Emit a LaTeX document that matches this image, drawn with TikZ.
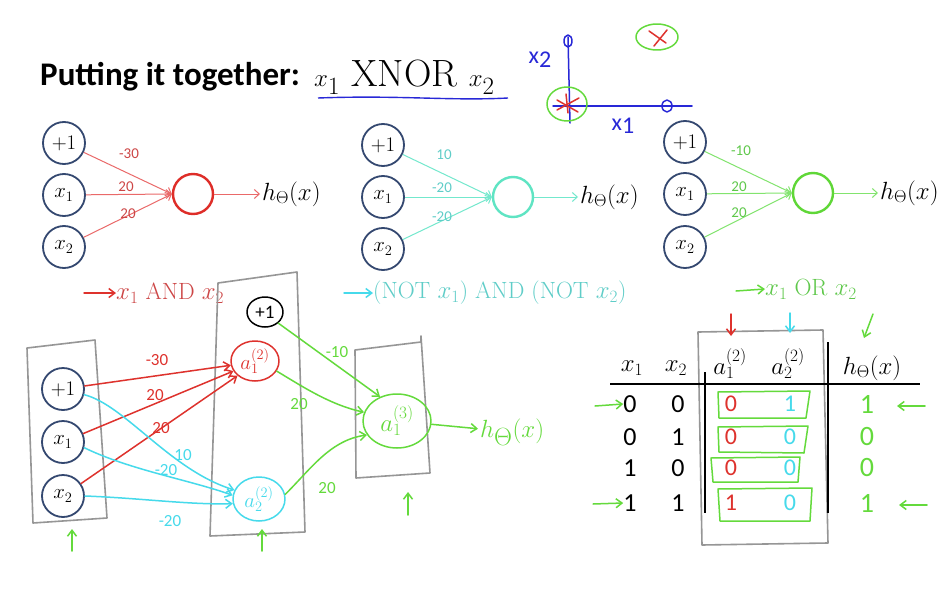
\documentclass[tikz,border=0pt]{standalone}
\usepackage{fontspec}
\newfontfamily\carl{Carlito}
\usetikzlibrary{arrows.meta,shapes.geometric}
\definecolor{nodeblue}{RGB}{52,72,112}
\definecolor{tred}{RGB}{234,105,105}
\definecolor{tredn}{RGB}{222,45,40}
\definecolor{tredt}{RGB}{205,70,70}
\definecolor{tcyan}{RGB}{115,232,205}
\definecolor{tcyann}{RGB}{95,228,195}
\definecolor{tcyant}{RGB}{95,205,200}
\definecolor{tgreen}{RGB}{130,228,110}
\definecolor{tgreenn}{RGB}{95,215,55}
\definecolor{tgreent}{RGB}{95,200,75}
\definecolor{hred}{RGB}{222,50,45}
\definecolor{hcyan}{RGB}{70,218,235}
\definecolor{hgreen}{RGB}{100,218,60}
\definecolor{hgray}{RGB}{150,150,150}
\definecolor{hblue}{RGB}{40,40,215}
\begin{document}
\begin{tikzpicture}[x=1pt,y=-1pt,
  inp/.style={circle,draw=nodeblue,line width=1.8pt,minimum size=42pt,inner sep=0pt,font=\fontsize{20}{20}\selectfont},
  outn/.style={circle,line width=2.4pt,minimum size=40pt,inner sep=0pt},
  hlab/.style={inner sep=2pt,font=\fontsize{25}{25}\selectfont},
  wl/.style={inner sep=0pt,font=\carl\fontsize{15}{15}\selectfont},
  hw/.style={inner sep=0pt,font=\carl\fontsize{17}{17}\selectfont},
  tedge/.style={line width=1pt,-{Straight Barb[length=5pt,width=9pt]}},
  hnd/.style={line width=1.5pt,line cap=round,line join=round},
  harr/.style={hnd,-{Straight Barb[length=6pt,width=9pt]}},
  gbox/.style={draw=hgray,line width=1.6pt,line join=round},
  tnum/.style={inner sep=0pt,font=\carl\fontsize{26}{26}\selectfont},
  thead/.style={inner sep=0pt,font=\fontsize{25}{25}\selectfont},
  glab/.style={inner sep=0pt,anchor=west,font=\fontsize{23.5}{23.5}\selectfont}
]
\useasboundingbox (0,0) rectangle (943,589);
\fill[white] (0,0) rectangle (943,589);

% ---------- title ----------
\node[anchor=west,inner sep=0pt,font=\carl\bfseries\fontsize{33}{33}\selectfont] (title) at (40,77) {Putting it together:};
\node[anchor=west,inner sep=0pt,font=\fontsize{38}{38}\selectfont] (xnor) at (314,77) {$x_1$ XNOR $x_2$};
\draw[hblue,line width=1.4pt] (318,98) .. controls (400,95) and (450,101) .. (508,98);

% ---------- blue axes sketch ----------
\draw[hblue,hnd] (568,37) -- (570,123);
\draw[hblue,hnd] (553,106) -- (692,106);
\draw[hblue,hnd] (568,41) ellipse (4pt and 6pt);
\draw[hblue,hnd] (667,106) ellipse (5pt and 6pt);
\node[inner sep=0pt,font=\carl\fontsize{24}{24}\selectfont,text=hblue] (ax2) at (540,60) {x\raisebox{-4pt}{2}};
\node[inner sep=0pt,font=\carl\fontsize{24}{24}\selectfont,text=hblue] (ax1) at (623,126) {x\raisebox{-3pt}{1}};
\draw[hgreen,hnd] (567,104) ellipse (20pt and 17pt);
\draw[hred,hnd] (557,110) -- (579,98);
\draw[hred,hnd] (557,100) -- (578,112);
\draw[hred,hnd] (566,94) -- (568,113);
\draw[hgreen,hnd] (657,37) ellipse (21pt and 13pt);
\draw[hred,hnd] (649,31) -- (666,43);
\draw[hred,hnd] (667,30) -- (654,46);

% ---------- top network 1 (AND) ----------
\node[inp] (n1b) at (64,143) {$+1$};
\node[inp] (n1x) at (64,195) {$x_1$};
\node[inp] (n1y) at (64,247) {$x_2$};
\node[outn,draw=tredn] (n1o) at (193,194) {};
\node[hlab,anchor=west] (n1h) at (260,194) {$h_\Theta(x)$};
\draw[tedge,tred] (n1b) -- (n1o.west);
\draw[tedge,tred] (n1x) -- (n1o.west);
\draw[tedge,tred] (n1y) -- (n1o.west);
\draw[tedge,tred] (n1o) -- (n1h);
\node[wl,text=tredt] (w1a) at (129,154) {-30};
\node[wl,text=tredt] (w1b) at (126,187) {20};
\node[wl,text=tredt] (w1c) at (128,214) {20};

% ---------- top network 2 (NOR) ----------
\node[inp] (n2b) at (383,145) {$+1$};
\node[inp] (n2x) at (383,197) {$x_1$};
\node[inp] (n2y) at (383,249) {$x_2$};
\node[outn,draw=tcyann] (n2o) at (513,197) {};
\node[hlab,anchor=west] (n2h) at (578,197) {$h_\Theta(x)$};
\draw[tedge,tcyan] (n2b) -- (n2o.west);
\draw[tedge,tcyan] (n2x) -- (n2o.west);
\draw[tedge,tcyan] (n2y) -- (n2o.west);
\draw[tedge,tcyan] (n2o) -- (n2h);
\node[wl,text=tcyant] (w2a) at (444,155) {10};
\node[wl,text=tcyant] (w2b) at (442,188) {-20};
\node[wl,text=tcyant] (w2c) at (442,217) {-20};

% ---------- top network 3 (OR) ----------
\node[inp] (n3b) at (685,142) {$+1$};
\node[inp] (n3x) at (685,194) {$x_1$};
\node[inp] (n3y) at (685,247) {$x_2$};
\node[outn,draw=tgreenn] (n3o) at (813,193) {};
\node[hlab,anchor=west] (n3h) at (878,193) {$h_\Theta(x)$};
\draw[tedge,tgreen] (n3b) -- (n3o.west);
\draw[tedge,tgreen] (n3x) -- (n3o.west);
\draw[tedge,tgreen] (n3y) -- (n3o.west);
\draw[tedge,tgreen] (n3o) -- (n3h);
\node[wl,text=tgreent] (w3a) at (741,151) {-10};
\node[wl,text=tgreent] (w3b) at (739,187) {20};
\node[wl,text=tgreent] (w3c) at (739,213) {20};

% ---------- gate labels ----------
\node[glab,text=tredt] (l1) at (116,293) {$x_1$ AND $x_2$};
\coordinate (l1s) at (84,293);
\draw[harr,hred] (l1s) -- (l1.west);
\node[glab,text=tcyant] (l2) at (373,293) {(NOT $x_1$) AND (NOT $x_2$)};
\coordinate (l2s) at (344,293);
\draw[harr,hcyan] (l2s) -- (l2.west);
\node[glab,text=tgreent] (l3) at (765,289) {$x_1$ OR $x_2$};
\coordinate (l3s) at (736,291);
\draw[harr,hgreen] (l3s) -- (l3.west);

% ---------- bottom: boxes ----------
\draw[gbox] (27,348) -- (95,340) -- (107,518) -- (33,523) -- cycle;
\draw[gbox] (218,283) -- (297,272) -- (305,532) -- (210,536) -- cycle;
\draw[gbox] (355,350) -- (421,342) -- (421,336) -- (430,473) -- (356,478) -- cycle;

% ---------- bottom: nodes ----------
\node[inp] (b0) at (63,389) {$+1$};
\node[inp] (b1) at (63,442) {$x_1$};
\node[inp] (b2) at (63,496) {$x_2$};
\node[draw=black,hnd,ellipse,minimum width=36pt,minimum height=30pt,inner sep=0pt,font=\carl\fontsize{19}{19}\selectfont] (k1) at (265,312) {+1};
\node[draw=hred,hnd,ellipse,minimum width=48pt,minimum height=40pt,inner sep=0pt,text=hred,font=\fontsize{22}{22}\selectfont] (ra) at (255,361) {$a^{(2)}_1$};
\node[draw=hcyan,hnd,ellipse,minimum width=52pt,minimum height=44pt,inner sep=0pt,text=hcyan,font=\fontsize{22}{22}\selectfont] (ca) at (259,499) {$a^{(2)}_2$};
\node[draw=hgreen,hnd,ellipse,minimum width=68pt,minimum height=54pt,inner sep=0pt,text=hgreen,font=\fontsize{24}{24}\selectfont] (ga) at (397,421) {$a^{(3)}_1$};
\node[inner sep=2pt,anchor=west,text=hgreen,font=\fontsize{36}{36}\selectfont] (gh) at (478,432) {$h_\Theta(x)$};

% red edges
\draw[harr,hred] (b0) -- (ra.190);
\draw[harr,hred] (b1) -- (ra.205);
\draw[harr,hred] (b2) -- (ra.220);
\node[hw,text=hred] (r1) at (157,360) {-30};
\node[hw,text=hred] (r2) at (155,395) {20};
\node[hw,text=hred] (r3) at (161,428) {20};
% cyan edges
\draw[harr,hcyan] (b0.-15) .. controls (125,405) and (170,470) .. (ca.160);
\draw[harr,hcyan] (b1.-15) .. controls (130,470) and (190,480) .. (ca.172);
\draw[harr,hcyan] (b2.0) .. controls (140,498) and (190,505) .. (ca.190);
\node[hw,text=hcyan] (c1) at (183,455) {10};
\node[hw,text=hcyan] (c2) at (166,470) {-20};
\node[hw,text=hcyan] (c3) at (170,521) {-20};
% green edges
\draw[harr,hgreen] (k1.-40) -- (ga.125);
\draw[harr,hgreen] (ra.-25) .. controls (300,385) and (330,405) .. (ga.165);
\draw[harr,hgreen] (ca.10) .. controls (310,470) and (330,440) .. (ga.205);
\draw[harr,hgreen] (ga) -- (gh);
\node[hw,text=hgreen] (g1) at (337,352) {-10};
\node[hw,text=hgreen] (g2) at (299,404) {20};
\node[hw,text=hgreen] (g3) at (327,488) {20};

% up arrows
\coordinate (u1a) at (72,551); \coordinate (u1b) at (72,529);
\coordinate (u2a) at (262,551); \coordinate (u2b) at (262,529);
\coordinate (u3a) at (408,515); \coordinate (u3b) at (408,492);
\draw[harr,hgreen] (u1a) -- (u1b);
\draw[harr,hgreen] (u2a) -- (u2b);
\draw[harr,hgreen] (u3a) -- (u3b);

% ---------- truth table ----------
\draw[gbox] (698,332) -- (823,330) -- (828,543) -- (702,545) -- cycle;
\draw[black,line width=1.2pt] (610,384) -- (920,384);
\draw[black,line width=1.2pt] (705,372) -- (705,513);
\draw[black,line width=1.2pt] (828,342) -- (828,513);
\node[thead] (hx1) at (632,368) {$x_1$};
\node[thead] (hx2) at (676,368) {$x_2$};
\node[thead] (ha1) at (730,364) {$a^{(2)}_1$};
\node[thead] (ha2) at (788,364) {$a^{(2)}_2$};
\node[thead] (hh) at (872,368) {$h_\Theta(x)$};
% green row boxes
\draw[hgreen,hnd] (718,392) -- (810,391) -- (806,418) -- (719,418) -- cycle;
\draw[hgreen,hnd] (718,427) -- (808,426) -- (804,453) -- (719,452) -- cycle;
\draw[hgreen,hnd] (711,458) -- (800,457) -- (798,482) -- (713,482) -- cycle;
\draw[hgreen,hnd] (718,489) -- (812,488) -- (810,521) -- (720,521) -- cycle;
% values
\foreach \r/\y/\u/\v/\p/\q/\h in {1/404/0/0/0/1/1,2/437/0/1/0/0/0,3/468/1/0/0/0/0,4/503/1/1/1/0/1}{
  \node[tnum] (tx\r) at (630,\y) {\u};
  \node[tnum] (ty\r) at (678,\y) {\v};
  \node[tnum,text=hred,font=\carl\fontsize{24}{24}\selectfont] (tp\r) at (731,\y) {\p};
  \node[tnum,text=hcyan,font=\carl\fontsize{24}{24}\selectfont] (tq\r) at (790,\y) {\q};
  \node[tnum,text=hgreen,font=\carl\fontsize{28}{28}\selectfont] (th\r) at (867,\y) {\h};
}
% small arrows
\coordinate (s1a) at (731,314); \coordinate (s1b) at (731,336);
\coordinate (s2a) at (790,313); \coordinate (s2b) at (790,333);
\coordinate (s3a) at (873,314); \coordinate (s3b) at (864,338);
\draw[harr,hred] (s1a) -- (s1b);
\draw[harr,hcyan] (s2a) -- (s2b);
\draw[harr,hgreen] (s3a) -- (s3b);
\coordinate (e1a) at (595,406); \coordinate (e4a) at (593,504);
\draw[harr,hgreen] (e1a) -- (tx1.west);
\draw[harr,hgreen] (e4a) -- (tx4.west);
\coordinate (f1a) at (925,406); \coordinate (f1b) at (897,406);
\coordinate (f4a) at (927,505); \coordinate (f4b) at (899,505);
\draw[harr,hgreen] (f1a) -- (f1b);
\draw[harr,hgreen] (f4a) -- (f4b);
\end{tikzpicture}
\end{document}
